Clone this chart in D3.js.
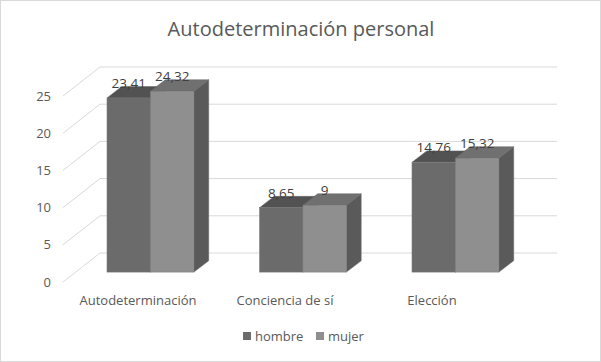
<!DOCTYPE html>
<html>
<head>
<meta charset="utf-8">
<script src="https://cdn.jsdelivr.net/npm/d3@7"></script>
<style>
  body { margin: 0; background: #fff; }
  svg text { font-family: "Open Sans", "Noto Sans", sans-serif; }
</style>
</head>
<body>
<svg id="chart" width="601" height="362"></svg>
<script>
const categories = ["Autodeterminación", "Conciencia de sí", "Elección"];
const seriesNames = ["hombre", "mujer"];
const hombre = [23.41, 8.65, 14.76];
const mujer = [24.32, 9, 15.32];
const hombreLabels = ["23,41", "8,65", "14,76"];
const mujerLabels = ["24,32", "9", "15,32"];
const yTicks = [0, 5, 10, 15, 20, 25];

const svg = d3.select("#chart");
const W = 601, H = 362;

// chart border
svg.append("rect")
  .attr("x", 0.5).attr("y", 0.5).attr("width", W - 1).attr("height", H - 1)
  .attr("fill", "#fff").attr("stroke", "#d9d9d9");

// front plane scale
const y = d3.scaleLinear().domain([0, 25]).range([282, 96]);
const floor = { dx: 37, dy: -29 };       // full depth of the floor
const barShift = { dx: 12.6, dy: -9.9 }; // bars sit a bit back from the front
const barDepth = { dx: 14.8, dy: -11.4 };

// gridlines (diagonal on the side wall, then along the back wall)
svg.append("g").selectAll("path")
  .data(yTicks)
  .enter().append("path")
  .attr("d", v => `M63,${y(v)} L${63 + floor.dx},${y(v) + floor.dy} L557,${y(v) + floor.dy}`)
  .attr("fill", "none")
  .attr("stroke", "#d9d9d9")
  .attr("stroke-width", 1);

// y tick labels
svg.append("g").selectAll("text")
  .data(yTicks)
  .enter().append("text")
  .attr("x", 51).attr("y", v => y(v))
  .attr("dy", "0.35em")
  .attr("text-anchor", "end")
  .attr("font-size", "13px")
  .attr("fill", "#595959")
  .text(d => d);

// bars
const x0 = d3.scaleBand().domain(categories).range([74.2, 531.7]).paddingInner(0.43).paddingOuter(0.215);
const x1 = d3.scaleBand().domain(seriesNames).range([0, x0.bandwidth()]);
const colors = {
  hombre: { front: "#6b6b6b", top: "#525252", side: "#4f4f4f" },
  mujer: { front: "#8f8f8f", top: "#707070", side: "#5a5a5a" }
};

const bars = [];
categories.forEach((c, i) => {
  bars.push({ cat: c, s: "hombre", v: hombre[i], label: hombreLabels[i] });
  bars.push({ cat: c, s: "mujer", v: mujer[i], label: mujerLabels[i] });
});

const gb = svg.append("g");
bars.forEach(b => {
  const xl = x0(b.cat) + x1(b.s);
  const xr = xl + x1.bandwidth();
  const yt = y(b.v) + barShift.dy;
  const yb = y(0) + barShift.dy;
  const c = colors[b.s];
  // side
  gb.append("path")
    .attr("d", `M${xr},${yt} L${xr + barDepth.dx},${yt + barDepth.dy} L${xr + barDepth.dx},${yb + barDepth.dy} L${xr},${yb} Z`)
    .attr("fill", c.side).attr("stroke", "#666").attr("stroke-width", 0.5);
  // top
  gb.append("path")
    .attr("d", `M${xl},${yt} L${xl + barDepth.dx},${yt + barDepth.dy} L${xr + barDepth.dx},${yt + barDepth.dy} L${xr},${yt} Z`)
    .attr("fill", c.top).attr("stroke", "#666").attr("stroke-width", 0.5);
  // front
  gb.append("rect")
    .attr("x", xl).attr("y", yt)
    .attr("width", xr - xl).attr("height", yb - yt)
    .attr("fill", c.front).attr("stroke", "#7a7a7a").attr("stroke-width", 0.5);
});

// data labels
svg.append("g").selectAll("text")
  .data(bars)
  .enter().append("text")
  .attr("x", b => x0(b.cat) + x1(b.s) + x1.bandwidth() / 2)
  .attr("y", b => y(b.v) + barShift.dy - 10)
  .attr("text-anchor", "middle")
  .attr("font-size", "13.5px")
  .attr("fill", "#404040")
  .text(b => b.label);

// category labels
const xl = d3.scaleBand().domain(categories).range([64.5, 505.5]);
svg.append("g").selectAll("text")
  .data(categories)
  .enter().append("text")
  .attr("x", d => xl(d) + xl.bandwidth() / 2)
  .attr("y", 305)
  .attr("text-anchor", "middle")
  .attr("font-size", "13px")
  .attr("fill", "#595959")
  .text(d => d);

// title
svg.append("text")
  .attr("x", 301).attr("y", 36)
  .attr("text-anchor", "middle")
  .attr("font-size", "20px")
  .attr("fill", "#595959")
  .text("Autodeterminación personal");

// legend
const legend = svg.append("g");
const legX = [243, 316];
seriesNames.forEach((s, i) => {
  legend.append("rect")
    .attr("x", legX[i]).attr("y", 332).attr("width", 8).attr("height", 8)
    .attr("fill", colors[s].front);
  legend.append("text")
    .attr("x", legX[i] + 12).attr("y", 341)
    .attr("font-size", "13px")
    .attr("fill", "#595959")
    .text(s);
});
</script>
</body>
</html>
